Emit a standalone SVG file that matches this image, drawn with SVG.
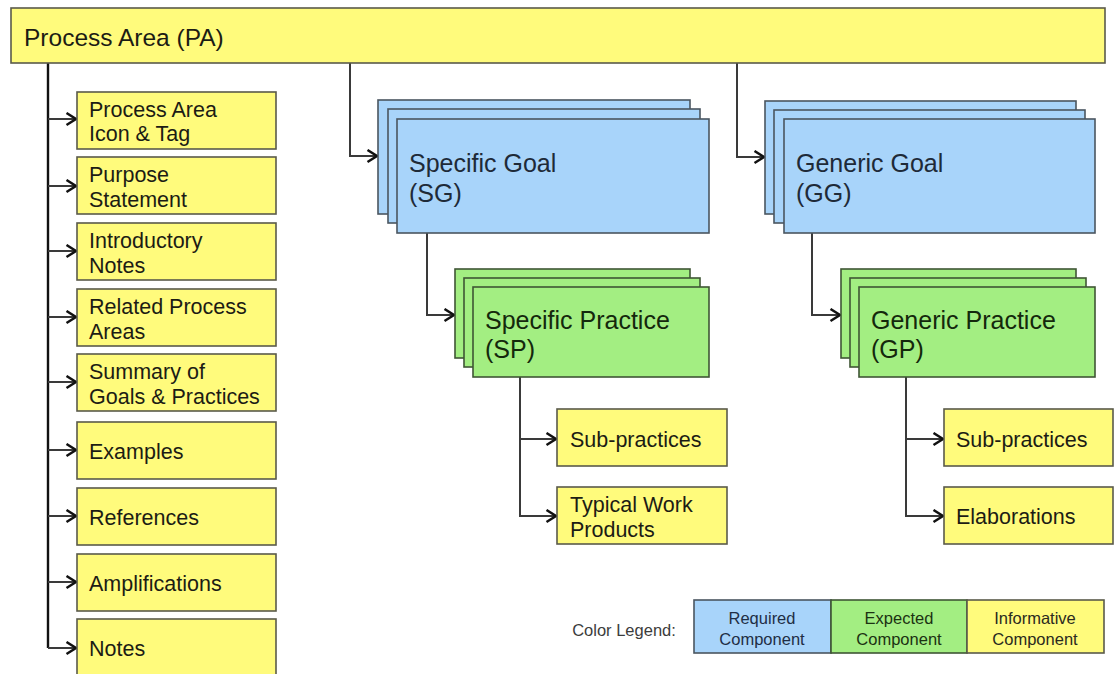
<svg xmlns="http://www.w3.org/2000/svg" width="1118" height="674" viewBox="0 0 1118 674">
<style>
.y{fill:#FFFB7C;stroke:#5a5a4a;stroke-width:1.6}
.b{fill:#A8D4FA;stroke:#4a5560;stroke-width:1.6}
.g{fill:#A3EE82;stroke:#3f5535;stroke-width:1.6}
.t{font-family:"Liberation Sans",Arial,sans-serif;font-size:21.5px;fill:#1c1c14}
.tb{font-family:"Liberation Sans",Arial,sans-serif;font-size:25px;fill:#1e2a38}
.tg{font-family:"Liberation Sans",Arial,sans-serif;font-size:25px;fill:#14280c}
.lg{font-family:"Liberation Sans",Arial,sans-serif;font-size:16.5px;text-anchor:middle}
.c{fill:none;stroke:#3a3a3a;stroke-width:2}
</style>
<defs>
<marker id="a" markerUnits="userSpaceOnUse" markerWidth="16" markerHeight="16" refX="11" refY="7" orient="auto">
<path d="M1.5,1 L11,7 L1.5,13" fill="none" stroke="#111" stroke-width="2.5"/>
</marker>
</defs>
<rect width="1118" height="674" fill="#ffffff"/>
<g id="connectors">
<path class="c" d="M48,63 V648" style="stroke:#111;stroke-width:2.4"/>
<path class="c" d="M48,119 H76" marker-end="url(#a)"/>
<path class="c" d="M48,186 H76" marker-end="url(#a)"/>
<path class="c" d="M48,251 H76" marker-end="url(#a)"/>
<path class="c" d="M48,317 H76" marker-end="url(#a)"/>
<path class="c" d="M48,382 H76" marker-end="url(#a)"/>
<path class="c" d="M48,450 H76" marker-end="url(#a)"/>
<path class="c" d="M48,516 H76" marker-end="url(#a)"/>
<path class="c" d="M48,582 H76" marker-end="url(#a)"/>
<path class="c" d="M48,648 H76" marker-end="url(#a)"/>
<path class="c" d="M350,63 V156 H377" marker-end="url(#a)"/>
<path class="c" d="M737,63 V157 H764" marker-end="url(#a)"/>
<path class="c" d="M427,233 V315 H454" marker-end="url(#a)"/>
<path class="c" d="M812,233 V315 H840" marker-end="url(#a)"/>
<path class="c" d="M520,377 V516 H556" marker-end="url(#a)"/>
<path class="c" d="M520,439 H556" marker-end="url(#a)"/>
<path class="c" d="M906,377 V516 H943" marker-end="url(#a)"/>
<path class="c" d="M906,439 H943" marker-end="url(#a)"/>
</g>
<g id="pa">
<rect class="y" x="11" y="8" width="1094" height="55"/>
<text class="t" x="24" y="46" style="font-size:24.5px">Process Area (PA)</text>
</g>
<g id="icon-tag">
<rect class="y" x="77" y="92" width="199" height="57"/>
<text class="t" x="89" y="117">Process Area</text>
<text class="t" x="89" y="141">Icon &amp; Tag</text>
</g>
<g id="purpose">
<rect class="y" x="77" y="157" width="199" height="57"/>
<text class="t" x="89" y="182">Purpose</text>
<text class="t" x="89" y="207">Statement</text>
</g>
<g id="intro">
<rect class="y" x="77" y="223" width="199" height="57"/>
<text class="t" x="89" y="248">Introductory</text>
<text class="t" x="89" y="273">Notes</text>
</g>
<g id="related">
<rect class="y" x="77" y="289" width="199" height="57"/>
<text class="t" x="89" y="314">Related Process</text>
<text class="t" x="89" y="339">Areas</text>
</g>
<g id="summary">
<rect class="y" x="77" y="354" width="199" height="57"/>
<text class="t" x="89" y="379">Summary of</text>
<text class="t" x="89" y="404">Goals &amp; Practices</text>
</g>
<g id="examples">
<rect class="y" x="77" y="422" width="199" height="57"/>
<text class="t" x="89" y="459">Examples</text>
</g>
<g id="references">
<rect class="y" x="77" y="488" width="199" height="57"/>
<text class="t" x="89" y="525">References</text>
</g>
<g id="amplifications">
<rect class="y" x="77" y="554" width="199" height="57"/>
<text class="t" x="89" y="591">Amplifications</text>
</g>
<g id="notes">
<rect class="y" x="77" y="619" width="199" height="60"/>
<text class="t" x="89" y="656">Notes</text>
</g>
<g id="sg">
<rect class="b" x="378" y="100" width="312" height="114"/>
<rect class="b" x="388" y="109" width="312" height="114"/>
<rect class="b" x="397" y="119" width="312" height="114"/>
<text class="tb" x="409" y="172">Specific Goal</text>
<text class="tb" x="409" y="202">(SG)</text>
</g>
<g id="gg">
<rect class="b" x="765" y="101" width="311" height="113"/>
<rect class="b" x="774" y="110" width="311" height="113"/>
<rect class="b" x="784" y="119" width="311" height="114"/>
<text class="tb" x="796" y="172">Generic Goal</text>
<text class="tb" x="796" y="202">(GG)</text>
</g>
<g id="sp">
<rect class="g" x="455" y="269" width="235" height="89"/>
<rect class="g" x="464" y="278" width="236" height="89"/>
<rect class="g" x="473" y="287" width="236" height="90"/>
<text class="tg" x="485" y="329">Specific Practice</text>
<text class="tg" x="485" y="358">(SP)</text>
</g>
<g id="gp">
<rect class="g" x="841" y="269" width="235" height="89"/>
<rect class="g" x="850" y="278" width="236" height="89"/>
<rect class="g" x="859" y="287" width="236" height="90"/>
<text class="tg" x="871" y="329">Generic Practice</text>
<text class="tg" x="871" y="358">(GP)</text>
</g>
<g id="sp-sub">
<rect class="y" x="557" y="409" width="170" height="57"/>
<text class="t" x="570" y="447">Sub-practices</text>
</g>
<g id="twp">
<rect class="y" x="557" y="487" width="170" height="57"/>
<text class="t" x="570" y="512">Typical Work</text>
<text class="t" x="570" y="537">Products</text>
</g>
<g id="gp-sub">
<rect class="y" x="944" y="409" width="169" height="57"/>
<text class="t" x="956" y="447">Sub-practices</text>
</g>
<g id="elab">
<rect class="y" x="944" y="487" width="169" height="57"/>
<text class="t" x="956" y="524">Elaborations</text>
</g>
<g id="legend">
<text class="lg" x="624" y="636" style="fill:#3c3c3c">Color Legend:</text>
<rect class="b" x="694" y="600" width="137" height="53"/>
<rect class="g" x="831" y="600" width="136" height="53"/>
<rect class="y" x="967" y="600" width="137" height="53"/>
<text class="lg" x="762" y="624" style="fill:#1f2e45">Required</text>
<text class="lg" x="762" y="645" style="fill:#1f2e45">Component</text>
<text class="lg" x="899" y="624" style="fill:#1c3212">Expected</text>
<text class="lg" x="899" y="645" style="fill:#1c3212">Component</text>
<text class="lg" x="1035" y="624" style="fill:#2a2a20">Informative</text>
<text class="lg" x="1035" y="645" style="fill:#2a2a20">Component</text>
</g>
</svg>
